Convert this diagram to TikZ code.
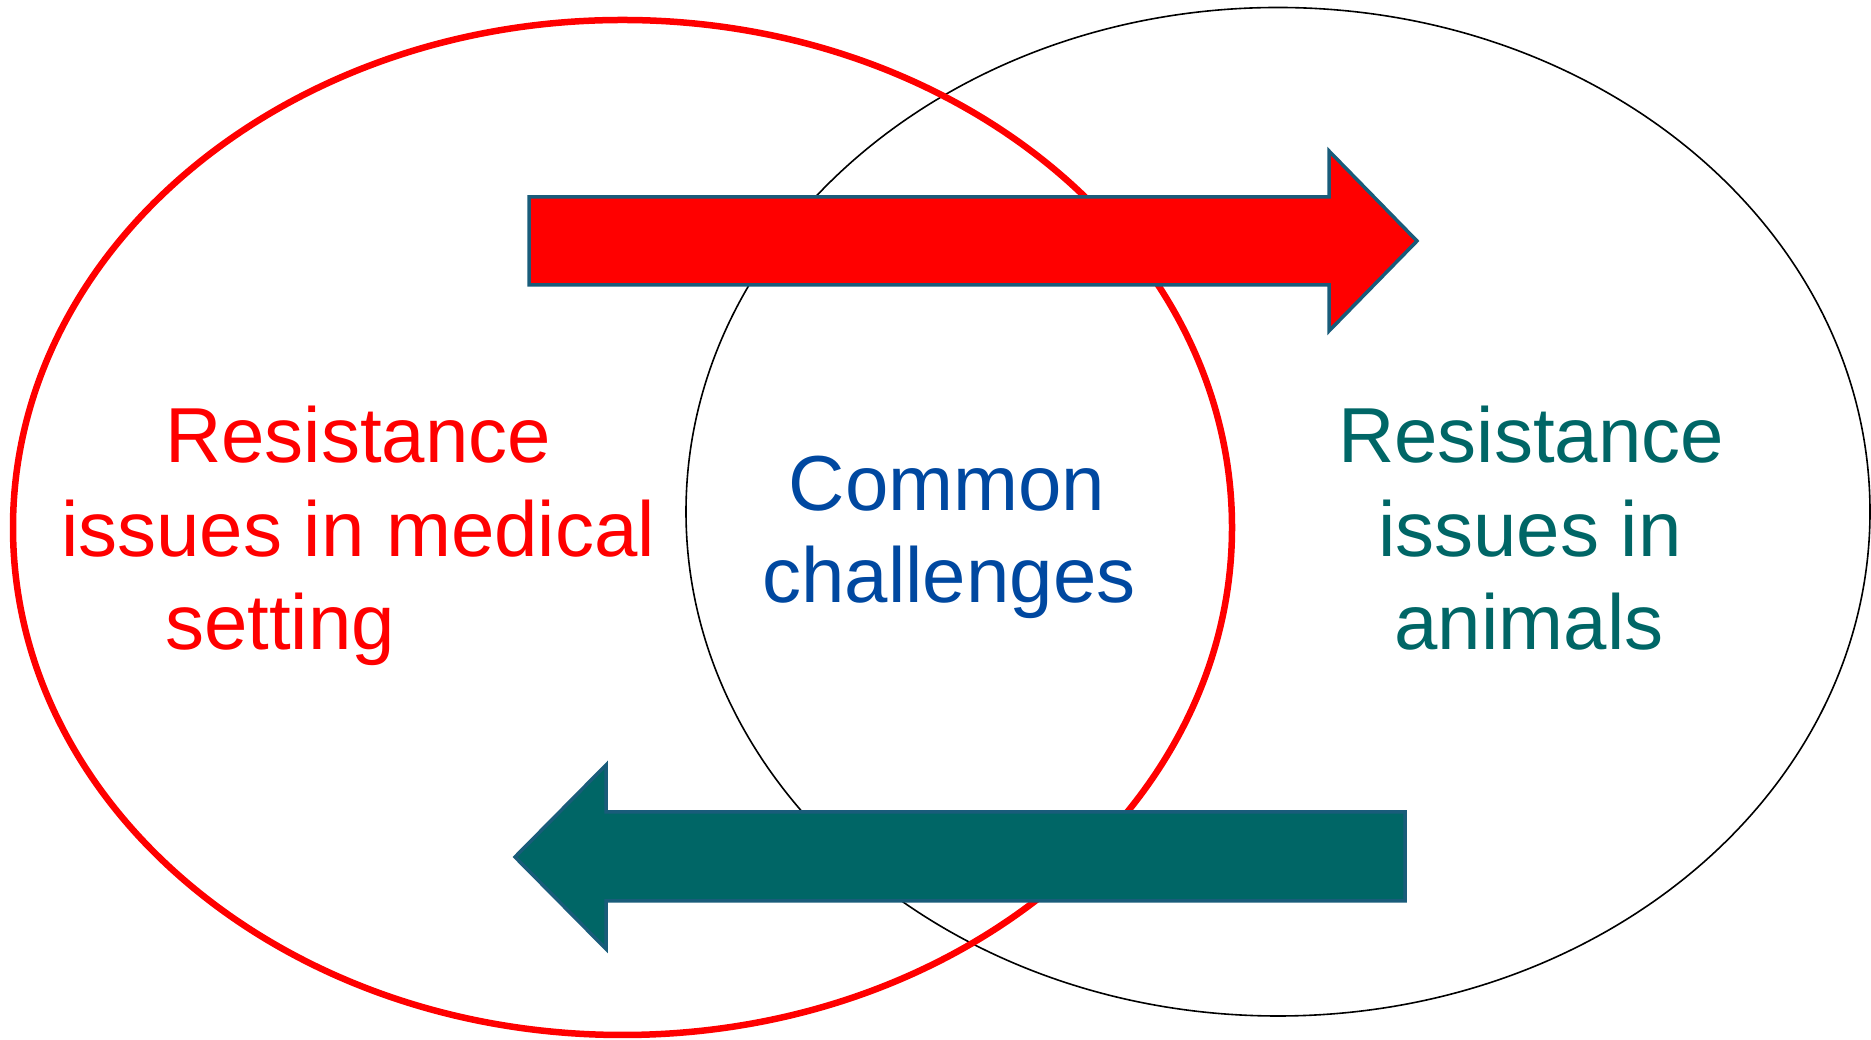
\documentclass[tikz,border=0pt]{standalone}
\usepackage{fontspec}
\setmainfont{Liberation Sans}
\definecolor{myred}{RGB}{255,0,0}
\definecolor{myteal}{RGB}{0,102,102}
\definecolor{myblue}{RGB}{0,72,160}
\definecolor{edgeblue}{RGB}{25,92,122}
\begin{document}
\begin{tikzpicture}[x=1pt,y=1pt,
  lbl/.style={anchor=base,inner sep=0pt,font=\fontsize{78}{94}\selectfont},
  fatarrow/.style={draw=edgeblue,line width=3.5pt,line join=miter}]
\useasboundingbox (0,0) rectangle (1871,1040);
% ellipses
\draw[black,line width=1.6pt] (1278,528.25) ellipse [x radius=592, y radius=504.25];
\draw[myred,line width=6.5pt] (622.5,512.5) ellipse [x radius=609.5, y radius=507.5];
% right arrow (red)
\coordinate (ra0) at (529,843);
\coordinate (ratip) at (1417,799);
\draw[fatarrow,fill=myred] (ra0) -- (1329,843) -- (1329,889) -- (ratip) -- (1329,709) -- (1329,755) -- (529,755) -- cycle;
% left arrow (teal)
\coordinate (la0) at (1405,228);
\coordinate (latip) at (515,183);
\draw[fatarrow,fill=myteal] (la0) -- (606,228) -- (606,275) -- (latip) -- (606,91) -- (606,139) -- (1405,139) -- cycle;
% texts
\node[lbl,text=myred] (l1) at (358,577) {Resistance};
\node[lbl,text=myred] (l2) at (358,483) {issues in medical};
\node[lbl,text=myred] (l3) at (280,390) {setting};
\node[lbl,text=myblue] (c1) at (947,529) {Common};
\node[lbl,text=myblue] (c2) at (949,437) {challenges};
\node[lbl,text=myteal] (r1) at (1531,577) {Resistance};
\node[lbl,text=myteal] (r2) at (1530,483) {issues in};
\node[lbl,text=myteal] (r3) at (1529,390) {animals};
\end{tikzpicture}
\end{document}
